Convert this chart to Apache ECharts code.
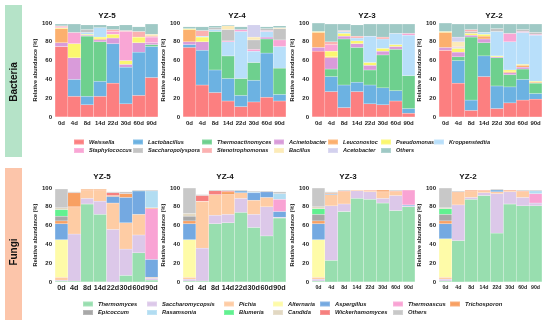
<!DOCTYPE html>
<html>
<head>
<meta charset="utf-8">
<script src="https://cdn.jsdelivr.net/npm/echarts@6/dist/echarts.min.js"></script>
<style>html,body{margin:0;padding:0;background:#fff;}#c{width:550px;height:325px;}</style>
</head>
<body>
<div id="c"></div>
<script>
const days = ['0d','4d','8d','14d','22d','30d','60d','90d'];
const sites = ['YZ-5','YZ-4','YZ-3','YZ-2'];
const yTicks = [0,20,40,60,80,100];

const bacteriaTaxa = ['Weissella','Lactobacillus','Thermoactinomyces','Acinetobacter','Leuconostoc','Pseudomonas','Kroppenstedtia','Staphylococcus','Saccharopolyspora','Stenotrophomonas','Bacillus','Acetobacter','Others'];
const fungiTaxa = ['Thermomyces','Saccharomycopsis','Pichia','Alternaria','Aspergillus','Thermoascus','Trichosporon','Epicoccum','Rasamsonia','Blumeria','Candida','Wickerhamomyces','Others'];

// rows follow bacteriaTaxa order, columns follow days
const bacYZ5 = [
  [75,22,13,22,36,14,23,42],
  [0,18,9,16,42,39,46,33],
  [0,0,64,42,0,0,0,2],
  [4,23,1,2,6,3,10,2],
  [15,0,0,1,0,0,0,0],
  [1,15,1,2,4,4,6,0],
  [0,0,2,10,0,0,0,0],
  [1,12,0,0,3,31,0,6],
  [0,0,3,0,0,0,0,0],
  [1,0,0,0,2,1,6,1],
  [0,0,0,0,0,0,0,2],
  [0,0,0,0,0,0,0,0],
  [2,9,5,3,4,6,5,11]
];
const bacYZ4 = [
  [74,34,26,17,11,16,21,17],
  [3,37,24,24,12,23,47,7],
  [0,0,41,24,18,19,15,28],
  [3,9,0,0,0,0,2,0],
  [13,0,0,0,0,0,0,0],
  [1,5,0,0,0,0,0,0],
  [0,1,2,15,50,12,6,23],
  [0,0,0,1,2,2,1,7],
  [0,0,2,12,0,10,2,12],
  [0,6,0,0,0,0,0,0],
  [0,0,0,4,0,3,0,1],
  [0,0,0,0,0,13,0,0],
  [2,4,2,1,3,0,2,2]
];
const bacYZ3 = [
  [70,27,10,27,14,13,17,4],
  [0,16,24,10,20,18,11,5],
  [0,8,49,37,16,35,44,35],
  [4,12,3,4,5,4,3,0],
  [16,1,0,0,0,0,0,0],
  [1,6,3,3,3,3,2,0],
  [0,0,2,3,28,10,12,43],
  [0,7,0,0,0,0,0,2],
  [0,0,0,0,0,0,0,0],
  [0,3,1,2,0,2,0,0],
  [0,0,0,0,0,0,0,0],
  [0,0,0,0,0,0,0,0],
  [9,19,7,12,13,14,10,10]
];
const bacYZ2 = [
  [71,36,7,43,9,15,18,19],
  [0,24,11,22,24,17,22,6],
  [0,4,67,14,30,13,11,11],
  [3,5,2,4,1,2,2,0],
  [16,0,0,3,0,1,2,1],
  [1,4,2,2,1,2,1,1],
  [0,1,0,2,26,30,34,49],
  [0,0,0,0,0,9,1,1],
  [0,0,2,0,3,0,2,2],
  [0,1,2,0,0,0,0,0],
  [0,5,0,0,0,0,0,0],
  [0,5,0,0,0,0,0,0],
  [9,14,6,9,5,10,6,9]
];

// rows follow fungiTaxa order
const funYZ5 = [
  [1,1,83,72,0,7,31,2],
  [1,50,6,14,56,28,19,2],
  [3,29,9,12,28,28,22,1],
  [40,0,0,0,0,0,0,0],
  [17,0,0,0,7,27,25,19],
  [0,0,0,0,0,0,0,54],
  [3,15,1,1,1,4,0,1],
  [5,0,0,0,0,0,0,0],
  [0,0,0,0,0,0,0,18],
  [7,0,0,0,0,0,0,0],
  [2,0,0,0,0,0,0,0],
  [0,0,0,0,3,0,0,0],
  [20,1,0,0,1,2,1,1]
];
const funYZ4 = [
  [1,1,62,63,74,58,49,68],
  [2,35,9,9,15,14,31,1],
  [2,50,22,21,6,15,10,0],
  [40,0,0,0,0,0,0,0],
  [17,0,0,0,2,8,6,6],
  [0,0,0,0,0,0,0,13],
  [3,0,0,3,0,0,0,0],
  [5,0,0,0,0,0,0,0],
  [0,0,0,0,0,1,0,6],
  [0,0,0,0,0,0,0,0],
  [3,0,0,0,0,0,0,0],
  [0,6,4,1,0,0,0,0],
  [27,1,1,1,1,1,1,2]
];
const funYZ3 = [
  [1,23,75,89,88,84,76,80],
  [2,58,8,8,8,5,16,1],
  [2,12,14,1,2,7,5,0],
  [40,0,0,0,0,0,0,0],
  [17,1,0,0,0,0,0,1],
  [0,0,0,0,0,0,0,16],
  [3,1,0,0,0,2,0,0],
  [7,0,0,0,0,0,0,0],
  [0,0,0,0,0,0,0,0],
  [6,0,0,0,0,0,0,0],
  [2,0,0,0,0,0,0,0],
  [0,0,0,0,0,0,0,0],
  [20,1,1,0,0,0,1,0]
];
const funYZ2 = [
  [1,44,88,92,52,83,81,81],
  [2,38,2,3,42,13,9,3],
  [2,13,7,3,2,1,7,0],
  [41,0,0,0,0,0,0,0],
  [16,0,0,0,2,0,0,0],
  [0,0,0,0,0,0,0,10],
  [3,1,1,0,0,1,0,0],
  [7,0,0,0,0,0,0,0],
  [0,0,0,0,0,0,0,3],
  [6,0,0,0,0,0,0,0],
  [1,0,0,0,0,0,0,0],
  [0,0,0,0,0,0,0,0],
  [21,1,0,0,1,0,1,1]
];

const bacColors = ['#FC7F80','#6CB2E2','#6ED08E','#D99BDA','#FCB06E','#FBF76F','#B8DFFA','#F9A6D5','#C4C4C4','#FBB1B1','#FCEBB8','#D3D1EE','#9FC9C5'];
const funColors = ['#98DEAF','#DCC8E9','#FECCA4','#FEFBA8','#74A9E1','#F9A3D4','#F8A062','#A8A8A8','#B2DDF2','#61F190','#E2D8C2','#F6807F','#C8C8C8'];

const bacData = [bacYZ5, bacYZ4, bacYZ3, bacYZ2];
const funData = [funYZ5, funYZ4, funYZ3, funYZ2];

const FONT = '"Liberation Sans", Arial, sans-serif';
const plotLeft = [55, 183, 312, 439];
const plotW = 103;
const rows = [{top: 23, data: bacData, taxa: bacteriaTaxa, colors: bacColors, xFont: [6,6,6,6]},
              {top: 188, data: funData, taxa: fungiTaxa, colors: funColors, xFont: [7.2,7.2,5.2,5.2]}];

const grid = [], xAxis = [], yAxis = [], series = [];
rows.forEach((r, ri) => {
  for (let s = 0; s < 4; s++) {
    const gi = ri * 4 + s;
    grid.push({left: plotLeft[s], top: r.top, width: plotW, height: 94, containLabel: false});
    xAxis.push({type: 'category', gridIndex: gi, data: days,
      axisLine: {show: false}, axisTick: {show: false},
      axisLabel: {fontSize: r.xFont[s], fontWeight: 'bold', color: '#222', margin: 3, fontFamily: FONT, interval: 0}});
    yAxis.push({type: 'value', gridIndex: gi, min: 0, max: 100, interval: 20,
      axisLine: {show: false}, axisTick: {show: false}, splitLine: {show: false},
      axisLabel: {fontSize: 6, fontWeight: 'bold', color: '#222', margin: 3, fontFamily: FONT},
      name: 'Relative abundance (%)', nameLocation: 'middle', nameGap: 15,
      nameTextStyle: {fontSize: 5.6, fontWeight: 'bold', color: '#222', fontFamily: FONT}});
    r.taxa.forEach((t, ti) => {
      series.push({type: 'bar', name: t, xAxisIndex: gi, yAxisIndex: gi, stack: 'g' + gi,
        barCategoryGap: '0%', barGap: '0%', data: r.data[s][ti],
        itemStyle: {color: r.colors[ti], borderColor: 'rgba(255,255,255,0.18)', borderWidth: 0.3},
        emphasis: {disabled: true}});
    });
  }
});

const legend = [];
const bacCols = [['Weissella','Staphylococcus'],['Lactobacillus','Saccharopolyspora'],['Thermoactinomyces','Stenotrophomonas'],['Acinetobacter','Bacillus'],['Leuconostoc','Acetobacter'],['Pseudomonas','Others'],['Kroppenstedtia']];
const bacLegLeft = [73,132,201,273,327,380,433];
const funCols = [['Thermomyces','Epicoccum'],['Saccharomycopsis','Rasamsonia'],['Pichia','Blumeria'],['Alternaria','Candida'],['Aspergillus','Wickerhamomyces'],['Thermoascus','Others'],['Trichosporon']];
const funLegLeft = [82,146,223,272,319,392,449];
bacCols.forEach((c, i) => legend.push({orient: 'vertical', left: bacLegLeft[i], top: 138.5, itemWidth: 10, itemHeight: 5, itemGap: 1.5, padding: 0, icon: 'rect', selectedMode: false,
  data: c.map(n => ({name: n, itemStyle: {color: bacColors[bacteriaTaxa.indexOf(n)]}})),
  textStyle: {fontSize: 5.6, fontWeight: 'bold', fontStyle: 'italic', color: '#222', fontFamily: FONT}}));
funCols.forEach((c, i) => legend.push({orient: 'vertical', left: funLegLeft[i], top: 300.5, itemWidth: 10, itemHeight: 5, itemGap: 1.5, padding: 0, icon: 'rect', selectedMode: false,
  data: c.map(n => ({name: n, itemStyle: {color: funColors[fungiTaxa.indexOf(n)]}})),
  textStyle: {fontSize: 5.8, fontWeight: 'bold', fontStyle: 'italic', color: '#222', fontFamily: FONT}}));

const bacTitleX = [107, 237, 367, 494];
const funTitleX = [102, 225, 348, 468];
const graphic = [
  {type: 'rect', shape: {x: 5, y: 5, width: 17, height: 152}, style: {fill: '#B5E3C8'}, silent: true},
  {type: 'rect', shape: {x: 5, y: 168, width: 17, height: 152}, style: {fill: '#FCC5AA'}, silent: true},
  {type: 'text', x: 14, y: 82, rotation: Math.PI / 2, style: {text: 'Bacteria', fill: '#111', font: 'bold 10px ' + FONT, textAlign: 'center', textVerticalAlign: 'middle'}},
  {type: 'text', x: 14, y: 252, rotation: Math.PI / 2, style: {text: 'Fungi', fill: '#111', font: 'bold 10px ' + FONT, textAlign: 'center', textVerticalAlign: 'middle'}}
];
sites.forEach((s, i) => {
  graphic.push({type: 'text', x: bacTitleX[i], y: 16, style: {text: s, fill: '#111', font: 'bold 8px ' + FONT, textAlign: 'center', textVerticalAlign: 'middle'}});
  graphic.push({type: 'text', x: funTitleX[i], y: 177, style: {text: s, fill: '#111', font: 'bold 8px ' + FONT, textAlign: 'center', textVerticalAlign: 'middle'}});
});

const chart = echarts.init(document.getElementById('c'), null, {renderer: 'canvas'});
chart.setOption({animation: false, backgroundColor: '#fff', grid, xAxis, yAxis, series, legend, graphic});
</script>
</body>
</html>
